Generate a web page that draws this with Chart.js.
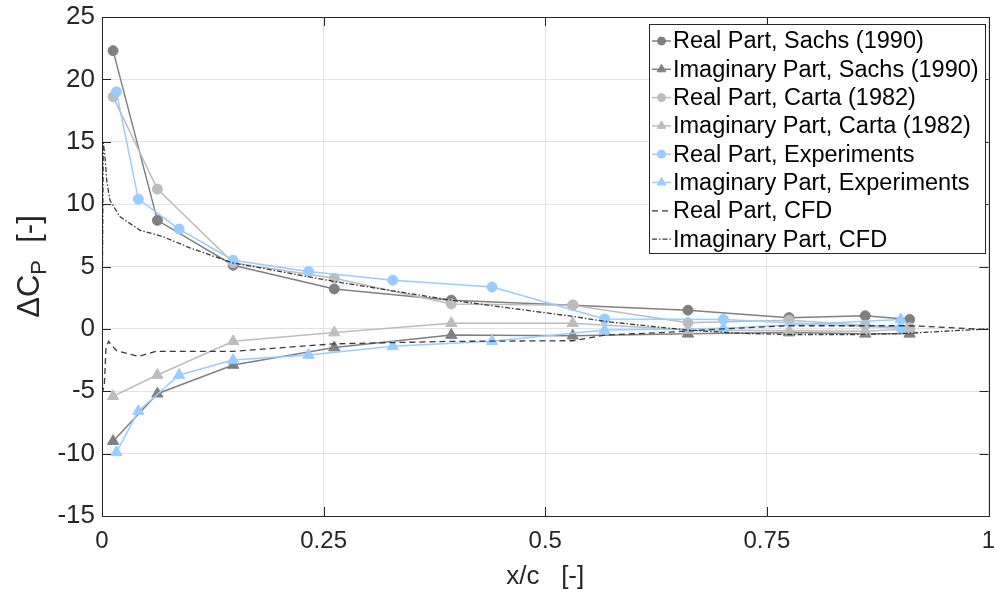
<!DOCTYPE html>
<html>
<head>
<meta charset="utf-8">
<script src="https://cdn.jsdelivr.net/npm/chart.js@4.4.1/dist/chart.umd.min.js"></script>
<style>
  html, body { margin: 0; padding: 0; background: #fff; }
  #wrap { width: 996px; height: 593px; }
</style>
</head>
<body>
<div id="wrap"><canvas id="chart" width="996" height="593"></canvas></div>
<script>
// ---- data ----
const sachsX = [0.0125, 0.0625, 0.148, 0.262, 0.394, 0.531, 0.661, 0.775, 0.861, 0.911];
const sachsReal = [22.3, 8.7, 5.1, 3.2, 2.3, 1.9, 1.5, 0.9, 1.05, 0.75];
const sachsImag = [-9.0, -5.2, -2.9, -1.5, -0.5, -0.55, -0.4, -0.3, -0.4, -0.4];

const cartaX = [0.0125, 0.0625, 0.148, 0.262, 0.394, 0.531, 0.661, 0.775, 0.861, 0.911];
const cartaReal = [18.6, 11.2, 5.3, 4.05, 2.0, 1.9, 0.5, 0.7, 0.3, 0.1];
const cartaImag = [-5.4, -3.7, -1.0, -0.3, 0.45, 0.45, -0.1, -0.15, -0.2, 0.0];

const expX = [0.0163, 0.041, 0.087, 0.148, 0.233, 0.328, 0.44, 0.567, 0.701, 0.901];
const expReal = [19.0, 10.4, 8.0, 5.5, 4.6, 3.9, 3.35, 0.8, 0.75, 0.05];
const expImag = [-9.9, -6.6, -3.7, -2.5, -2.1, -1.4, -1.0, -0.1, 0.05, 0.75];

const cfdReX = [0, 0.0006, 0.0026, 0.0045, 0.0075, 0.009, 0.0165, 0.041, 0.061, 0.147, 0.262, 0.394, 0.531, 0.567, 0.638, 0.7, 0.775, 0.911, 1.0];
const cfdReY = [0, -5.0, -4.6, -1.5, -1.0, -1.15, -1.75, -2.2, -1.8, -1.8, -1.2, -1.0, -0.95, -0.5, -0.27, 0.0, 0.25, 0.25, -0.05];

const cfdImX = [0, 0.0008, 0.0015, 0.0034, 0.0053, 0.009, 0.02, 0.043, 0.0685, 0.099, 0.147, 0.262, 0.394, 0.451, 0.531, 0.567, 0.6, 0.661, 0.72, 0.775, 0.85, 0.911, 0.96, 1.0];
const cfdImY = [0, 8, 14.9, 13.8, 11.9, 10.3, 9.0, 7.9, 7.4, 6.5, 5.3, 3.8, 2.3, 1.75, 1.0, 0.6, 0.35, -0.1, -0.35, -0.45, -0.45, -0.35, -0.15, 0];

const xTickValues = [0, 0.25, 0.5, 0.75, 1];
const xTickLabels = ["0", "0.25", "0.5", "0.75", "1"];
const yTickValues = [-15, -10, -5, 0, 5, 10, 15, 20, 25];

const seriesLabels = [
  "Real Part, Sachs (1990)",
  "Imaginary Part, Sachs (1990)",
  "Real Part, Carta (1982)",
  "Imaginary Part, Carta (1982)",
  "Real Part, Experiments",
  "Imaginary Part, Experiments",
  "Real Part, CFD",
  "Imaginary Part, CFD",
];

// ---- helpers ----
const FONT = '"Liberation Sans", Arial, Helvetica, sans-serif';
const TXT = "#262626";
const DARK = "#808080";
const LIGHT = "#bdbdbd";
const BLUE = "#99ccff";
const CFD = "#3a3a3a";

function pts(xs, ys) {
  return xs.map((x, i) => ({ x: x, y: ys[i] }));
}

function markerSet(label, xs, ys, color, style, order) {
  return {
    label: label,
    data: pts(xs, ys),
    showLine: true,
    borderColor: color,
    backgroundColor: color,
    borderWidth: 1.5,
    pointStyle: style,
    pointRadius: style === "triangle" ? 6.5 : 5,
    pointBorderWidth: 1,
    pointBackgroundColor: color,
    pointBorderColor: color,
    order: order,
  };
}

function cfdSet(label, xs, ys, dash, order) {
  return {
    label: label,
    data: pts(xs, ys),
    showLine: true,
    borderColor: CFD,
    borderWidth: 1.3,
    borderDash: dash,
    pointRadius: 0,
    order: order,
  };
}

const DASHED = [6, 4];
const DASHDOT = [5, 2, 1.5, 2];

const datasets = [
  markerSet(seriesLabels[0], sachsX, sachsReal, DARK, "circle", 10),
  markerSet(seriesLabels[1], sachsX, sachsImag, DARK, "triangle", 9),
  markerSet(seriesLabels[2], cartaX, cartaReal, LIGHT, "circle", 8),
  markerSet(seriesLabels[3], cartaX, cartaImag, LIGHT, "triangle", 7),
  markerSet(seriesLabels[4], expX, expReal, BLUE, "circle", 6),
  markerSet(seriesLabels[5], expX, expImag, BLUE, "triangle", 5),
  cfdSet(seriesLabels[6], cfdReX, cfdReY, DASHED, 4),
  cfdSet(seriesLabels[7], cfdImX, cfdImY, DASHDOT, 3),
];

function noPad(s) {
  s.paddingLeft = 0;
  s.paddingRight = 0;
  s.paddingTop = 0;
  s.paddingBottom = 0;
}

// frame, inner ticks, y title and legend box
const decorations = {
  id: "decorations",
  afterDraw(chart) {
    const ctx = chart.ctx;
    const a = chart.chartArea;
    const xs = chart.scales.x;
    const ys = chart.scales.y;
    const tl = 9;

    ctx.save();
    ctx.strokeStyle = TXT;
    ctx.lineWidth = 1;
    ctx.beginPath();
    yTickValues.forEach((v) => {
      const p = Math.round(ys.getPixelForValue(v)) + 0.5;
      ctx.moveTo(a.left, p); ctx.lineTo(a.left + tl, p);
      ctx.moveTo(a.right, p); ctx.lineTo(a.right - tl, p);
    });
    xTickValues.forEach((v) => {
      const p = Math.round(xs.getPixelForValue(v)) + 0.5;
      ctx.moveTo(p, a.bottom); ctx.lineTo(p, a.bottom - tl);
      ctx.moveTo(p, a.top); ctx.lineTo(p, a.top + tl);
    });
    ctx.stroke();
    ctx.strokeRect(Math.round(a.left) + 0.5, Math.round(a.top) + 0.5,
      Math.round(a.right - a.left), Math.round(a.bottom - a.top));

    // y axis title with subscript
    const big = "31px " + FONT;
    const small = "22px " + FONT;
    ctx.fillStyle = TXT;
    ctx.textBaseline = "alphabetic";
    ctx.font = big;
    const w1 = ctx.measureText("\u0394C").width;
    const w3 = ctx.measureText("  [-]").width;
    ctx.font = small;
    const w2 = ctx.measureText("P").width;
    const total = w1 + w2 + w3;
    ctx.translate(39, (a.top + a.bottom) / 2);
    ctx.rotate(-Math.PI / 2);
    let cx = -total / 2;
    ctx.font = big;
    ctx.fillText("\u0394C", cx, 0);
    cx += w1;
    ctx.font = small;
    ctx.fillText("P", cx, 7);
    cx += w2;
    ctx.font = big;
    ctx.fillText("  [-]", cx, 0);
    ctx.restore();

    // legend box
    ctx.save();
    const bx = 649.5, by = 24.5, bw = 336, bh = 229;
    ctx.fillStyle = "#fff";
    ctx.fillRect(bx, by, bw, bh);
    ctx.strokeStyle = TXT;
    ctx.lineWidth = 1;
    ctx.strokeRect(bx, by, bw, bh);
    ctx.font = "23.5px " + FONT;
    ctx.textBaseline = "middle";
    datasets.forEach((ds, i) => {
      const cy = 41 + i * 28.3;
      ctx.strokeStyle = ds.borderColor;
      ctx.lineWidth = ds.borderWidth;
      ctx.setLineDash(ds.borderDash || []);
      ctx.beginPath();
      ctx.moveTo(652, cy);
      ctx.lineTo(671, cy);
      ctx.stroke();
      ctx.setLineDash([]);
      if (ds.pointRadius > 0) {
        ctx.fillStyle = ds.pointBackgroundColor;
        ctx.strokeStyle = ds.pointBorderColor;
        ctx.lineWidth = 1;
        Chart.helpers.drawPoint(ctx, {
          pointStyle: ds.pointStyle,
          radius: ds.pointStyle === "triangle" ? 5 : 4,
          rotation: 0,
          borderWidth: 1,
        }, 661.5, cy);
      }
      ctx.fillStyle = "#000";
      ctx.fillText(ds.label, 673, cy + 1);
    });
    ctx.restore();
  },
};

new Chart(document.getElementById("chart"), {
  type: "scatter",
  data: { datasets: datasets },
  options: {
    responsive: false,
    animation: false,
    layout: { padding: { top: 17, right: 1, left: 0, bottom: 0 } },
    plugins: { legend: { display: false }, tooltip: { enabled: false } },
    scales: {
      x: {
        type: "linear",
        min: 0,
        max: 1,
        afterBuildTicks: (s) => { s.ticks = xTickValues.map((v) => ({ value: v })); },
        afterFit: (s) => { s.height = 77; noPad(s); },
        grid: { color: "#e3e3e3", drawTicks: false },
        border: { color: TXT },
        ticks: {
          padding: 11,
          color: TXT,
          font: { family: FONT, size: 24 },
          callback: (v) => xTickLabels[xTickValues.indexOf(v)] ?? "",
        },
        title: {
          display: true,
          text: "x/c   [-]",
          color: TXT,
          font: { family: FONT, size: 26 },
          padding: { top: 0, bottom: 1 },
        },
      },
      y: {
        type: "linear",
        min: -15,
        max: 25,
        afterBuildTicks: (s) => { s.ticks = yTickValues.map((v) => ({ value: v })); },
        afterFit: (s) => { s.width = 102; noPad(s); },
        grid: { color: "#e3e3e3", drawTicks: false },
        border: { color: TXT },
        ticks: {
          padding: 7,
          color: TXT,
          font: { family: FONT, size: 26 },
        },
      },
    },
  },
  plugins: [decorations],
});
</script>
</body>
</html>
